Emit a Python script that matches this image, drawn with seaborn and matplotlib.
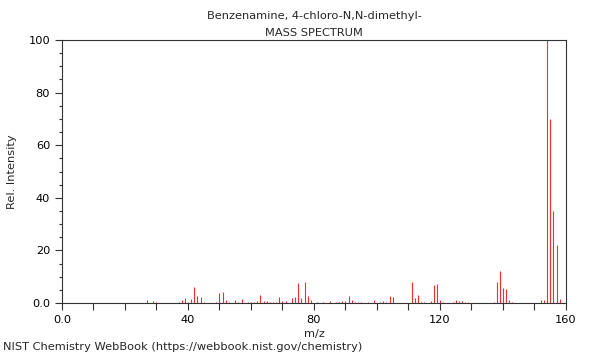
import matplotlib
matplotlib.use('Agg')
import matplotlib.pyplot as plt
import seaborn as sns
from matplotlib.ticker import MultipleLocator, FuncFormatter

# Peaks (m/z, relative intensity)
mz = [27, 29, 30, 37, 38, 39, 40, 41, 42, 43, 44, 45,
      49, 50, 51, 52, 53, 55, 56, 57, 59, 60, 61, 62, 63, 64, 65, 66,
      67, 68, 69, 70, 71, 73, 74, 75, 76, 77, 78, 79, 81, 83, 85, 87,
      88, 89, 90, 91, 92, 93, 94, 95, 97, 99, 101, 102, 103, 104, 105,
      111, 112, 113, 114, 115, 117, 118, 119, 120, 121, 124, 125, 126,
      127, 128, 129, 137, 138, 139, 140, 141, 142, 143,
      152, 153, 154, 155, 156, 157, 158]
intensity = [1.0, 0.8, 0.5, 0.4, 1.1, 2.0, 0.4, 1.7, 6.1, 2.6, 2.3, 0.3,
             0.4, 3.8, 4.2, 1.1, 0.4, 1.0, 0.4, 1.6, 0.3, 0.4, 0.4, 0.9, 3.0, 0.9, 0.8, 0.4,
             0.4, 0.4, 2.1, 0.8, 0.6, 1.9, 2.3, 7.7, 2.0, 8.1, 2.7, 1.0, 0.4, 0.4, 0.8, 0.3,
             0.3, 0.6, 0.6, 2.5, 1.0, 0.5, 0.4, 0.4, 0.4, 1.1, 0.4, 0.6, 0.4, 2.7, 2.3,
             8.0, 1.9, 2.9, 0.4, 0.4, 0.9, 6.8, 7.2, 1.0, 0.2, 0.4, 1.1, 0.6,
             0.6, 0.4, 0.2, 0.2, 8.1, 12.0, 5.7, 5.3, 1.1, 0.3,
             1.0, 1.1, 100.0, 70.0, 35.0, 22.0, 1.5]

title = 'Benzenamine, 4-chloro-N,N-dimethyl-\nMASS SPECTRUM'
footer = 'NIST Chemistry WebBook (https://webbook.nist.gov/chemistry)'

sns.set_style('ticks')
plt.rcParams['font.family'] = ['DejaVu Sans']
fs = 8.2

fig = plt.figure(figsize=(6, 3.6), dpi=100)
ax = fig.add_axes([0.1033, 0.1583, 0.84, 0.7306])

ax.vlines(mz, 0, intensity, color='#ff2a2a', linewidth=0.8)

ax.set_xlim(0, 160)
ax.set_ylim(0, 100)
ax.xaxis.set_major_locator(MultipleLocator(40))
ax.xaxis.set_minor_locator(MultipleLocator(10))
ax.yaxis.set_major_locator(MultipleLocator(20))
ax.yaxis.set_minor_locator(MultipleLocator(5))
fmt = FuncFormatter(lambda v, p: '0.0' if v == 0 else '%d' % v)
ax.xaxis.set_major_formatter(fmt)
ax.yaxis.set_major_formatter(fmt)

ax.tick_params(axis='x', which='both', length=5, width=0.8, direction='out',
               labelsize=fs, colors='#333333', labelcolor='black')
ax.tick_params(axis='y', which='major', length=5, width=0.8, labelsize=fs,
               colors='#333333', labelcolor='black')
ax.tick_params(axis='y', which='minor', length=2.5, width=0.8, colors='#333333')

for s in ax.spines.values():
    s.set_visible(True)
    s.set_color('#333333')
    s.set_linewidth(0.8)

ax.set_xlabel('m/z', fontsize=fs, labelpad=3)
ax.set_ylabel('Rel. Intensity', fontsize=fs, labelpad=8)
ax.set_title(title, fontsize=fs, linespacing=1.85, pad=3)
fig.text(0.005, 0.022, footer, fontsize=fs, ha='left', va='bottom')

fig.savefig('out.png', dpi=100)
